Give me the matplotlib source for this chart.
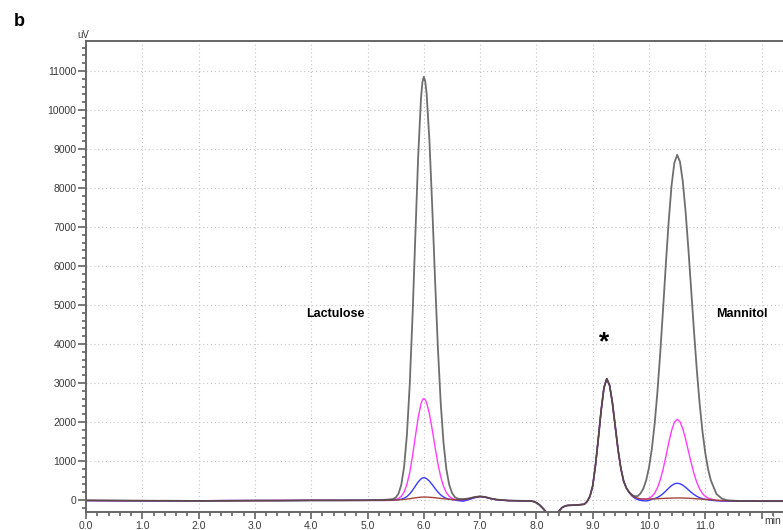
import matplotlib
matplotlib.use("Agg")
import matplotlib.pyplot as plt
from matplotlib.ticker import MultipleLocator, FormatStrFormatter, FuncFormatter

plt.rcParams["font.family"] = ["Liberation Sans", "DejaVu Sans"]

# retention time (min), split in three parts
time_front = [0.0, 0.5, 1.0, 1.5, 2.0, 2.5, 3.0, 3.5, 4.0, 4.5, 5.0, 5.3,
              5.4, 5.45, 5.5, 5.55, 5.6, 5.65, 5.7, 5.75, 5.8, 5.85, 5.9, 5.95,
              5.975, 6.0, 6.025, 6.05, 6.1, 6.15, 6.2, 6.25, 6.3, 6.35, 6.4,
              6.45, 6.5, 6.55, 6.6, 6.7, 6.8, 6.9, 7.0, 7.1, 7.2, 7.3]
time_common = [7.5, 7.7, 7.9, 7.95, 8.0, 8.05, 8.1, 8.15, 8.2, 8.25, 8.3,
               8.35, 8.4, 8.45, 8.5, 8.55, 8.7, 8.85, 8.9, 8.95, 9.0, 9.05,
               9.1, 9.15, 9.2, 9.25, 9.3, 9.35, 9.4, 9.45, 9.5, 9.55, 9.6]
time_back = [9.65, 9.7, 9.75, 9.8, 9.85, 9.9, 9.95, 10.0, 10.05, 10.1, 10.15,
             10.2, 10.25, 10.3, 10.35, 10.4, 10.45, 10.5, 10.55, 10.6, 10.65,
             10.7, 10.75, 10.8, 10.85, 10.9, 10.95, 11.0, 11.05, 11.1,
             11.2, 11.3, 11.4, 11.6, 12.0, 12.4]

# signal (uV) shared by all runs between 7.5 and 9.6 min (dip + peak *)
common_uv = [-15, -20, -25, -40, -70, -120, -190, -270, -360, -480, -560,
             -430, -290, -200, -160, -140, -130, -110, -40, 90, 360, 900,
             1580, 2300, 2880, 3110, 2940, 2490, 1890, 1290, 810, 480, 300]

black_front = [-10, -15, -20, -20, -25, -20, -15, -15, -10, -10, -5, 5,
               15, 25, 60, 160, 390, 850, 1670, 2955, 4720, 6790, 8810, 10300,
               10710, 10850, 10740, 10420, 9210, 7515, 5645, 3910, 2497, 1468, 796,
               398, 183, 78, 35, 20, 40, 75, 95, 75, 35, 10]
black_back = [200, 130, 95, 100, 170, 295, 507, 833, 1305, 1951, 2778,
              3779, 4902, 6065, 7153, 8052, 8644, 8850, 8675, 8170, 7392,
              6426, 5368, 4308, 3320, 2460, 1752, 1198, 787, 497,
              150, 30, -10, -25, -30, -30]

magenta_front = [-15, -20, -20, -20, -20, -15, -15, -10, -10, -10, -10, -10,
                 -8, -5, 14, 38, 93, 203, 400, 707, 1131, 1628, 2111, 2467,
                 2566, 2600, 2574, 2496, 2207, 1802, 1352, 937, 598, 351, 191,
                 95, 44, 19, 0, -15, 20, 65, 90, 70, 30, 5]
magenta_back = [190, 110, 60, 30, 20, 15, 22, 44, 91, 175, 313,
                516, 789, 1117, 1463, 1774, 1991, 2070, 2006, 1827, 1563,
                1255, 948, 672, 448, 280, 165, 91, 47, 23,
                -10, -25, -25, -25, -25, -25]

blue_front = [-15, -15, -20, -20, -20, -15, -15, -15, -10, -10, -10, -10,
              -10, -8, 3, 8, 20, 45, 88, 155, 248, 357, 463, 541,
              563, 570, 564, 547, 484, 395, 296, 205, 131, 77, 42,
              21, 10, 0, -15, -30, 10, 55, 85, 65, 30, 5]
blue_back = [185, 100, 45, 10, -10, -20, -25, -10, 19, 36, 65,
             107, 164, 232, 304, 369, 414, 430, 417, 379, 325,
             261, 197, 140, 93, 58, 34, 19, 5, -5,
             -20, -25, -25, -25, -25, -25]

brown_front = [-10, -15, -15, -20, -20, -20, -15, -15, -10, -10, -10, -10,
               -5, -3, 0, 3, 10, 15, 25, 33, 45, 55, 65, 72,
               75, 75, 75, 74, 70, 64, 57, 49, 40, 32, 25,
               18, 12, 8, 5, 15, 35, 70, 90, 70, 35, 10]
brown_back = [190, 115, 70, 45, 30, 25, 25, 25, 27, 30, 33,
              36, 40, 43, 46, 49, 51, 52, 52, 51, 48,
              45, 41, 36, 31, 26, 20, 15, 10, 5,
              -5, -15, -20, -25, -25, -25]

time = time_front + time_common + time_back
traces = [
    (magenta_front + common_uv + magenta_back, "#ff3cff", 1.0, 1.0),
    (blue_front + common_uv + blue_back, "#3a3aff", 1.0, 1.0),
    (brown_front + common_uv + brown_back, "#a4453c", 1.0, 1.0),
    (black_front + common_uv + black_back, "#4a4a4a", 1.3, 0.8),
]

fig = plt.figure(figsize=(7.83, 5.30), dpi=100)
ax = fig.add_axes([86 / 783, 18 / 530, 697 / 783, 471 / 530])

for values, color, lw, alpha in traces:
    ax.plot(time, values, color=color, lw=lw, alpha=alpha)

ax.set_xlim(0, 12.38)
ax.set_ylim(-308, 11770)

ax.xaxis.set_major_locator(MultipleLocator(1.0))
ax.xaxis.set_minor_locator(MultipleLocator(0.2))
# the 12.0 label is replaced by the unit "min"
ax.xaxis.set_major_formatter(FuncFormatter(lambda v, p: "" if v > 11.5 else "%.1f" % v))
ax.yaxis.set_major_locator(MultipleLocator(1000))
ax.yaxis.set_minor_locator(MultipleLocator(200))

ax.grid(True, which="major", color="#c4c4c4", lw=0.8, linestyle=(0, (1, 2.5)))
ax.tick_params(axis="both", which="both", direction="out", colors="#555555",
               labelcolor="#3a3a3a", labelsize=7.5, width=1.1)
ax.tick_params(axis="y", which="major", length=6, pad=1)
ax.tick_params(axis="y", which="minor", length=3)
ax.tick_params(axis="x", which="major", length=5, pad=1.5)
ax.tick_params(axis="x", which="minor", length=3)

for side in ["left", "top", "bottom"]:
    ax.spines[side].set_color("#666666")
    ax.spines[side].set_linewidth(1.4)
ax.spines["right"].set_visible(False)

ax.text(-0.05, 11800, "uV", fontsize=7, color="#3a3a3a",
        ha="center", va="bottom", clip_on=False)
fig.text(781 / 783, 1 - 516 / 530, "min", fontsize=7.5, color="#3a3a3a",
         ha="right", va="top")

ax.text(4.43, 4780, "Lactulose", fontsize=9, fontweight="bold", ha="center", va="center")
ax.text(11.65, 4780, "Mannitol", fontsize=9, fontweight="bold", ha="center", va="center")
ax.text(9.2, 4050, "*", fontsize=19, fontweight="bold", ha="center", va="center")

fig.text(14 / 783, 1 - 22 / 530, "b", fontsize=13, fontweight="bold",
         ha="left", va="center")

fig.savefig("out.png", dpi=100)
